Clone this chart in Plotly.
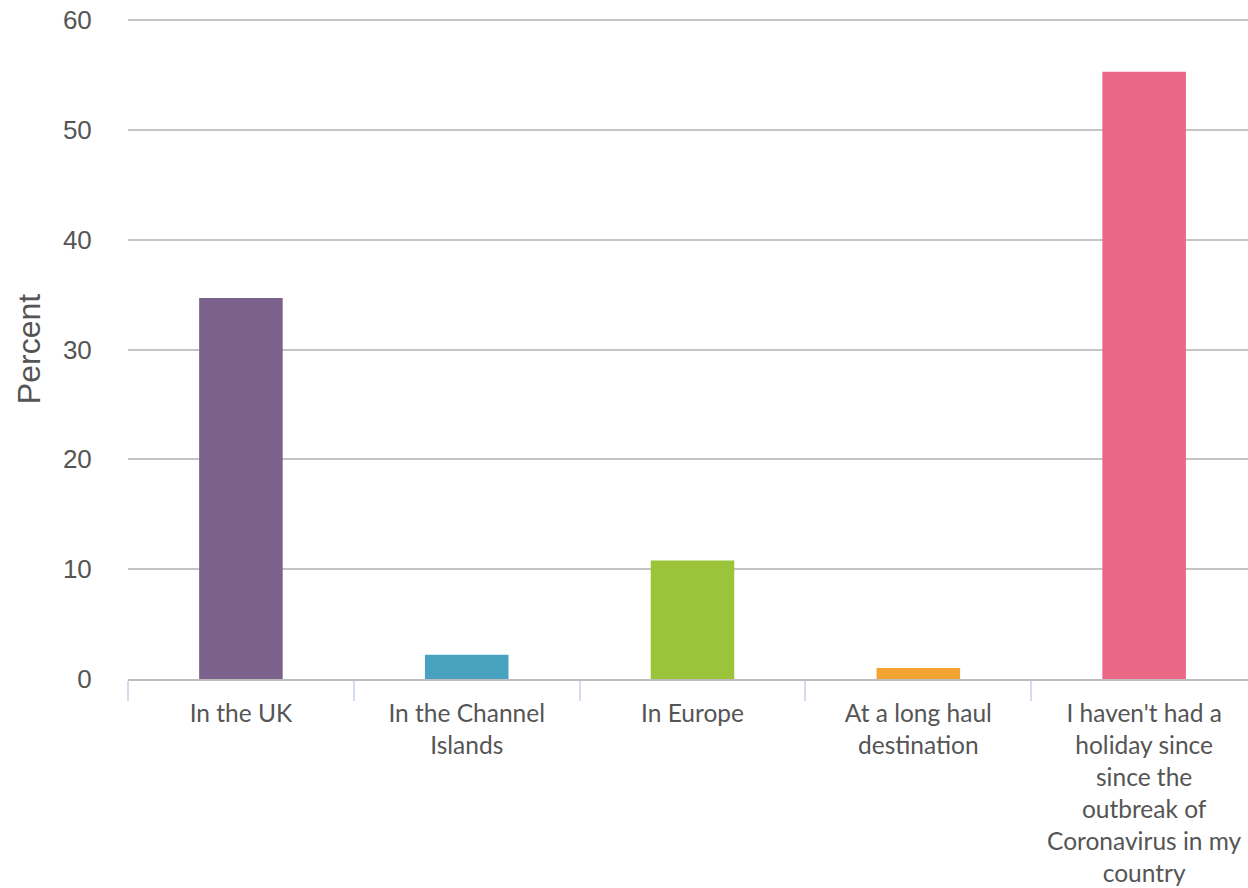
import plotly.graph_objects as go

categories = [
    "In the UK",
    "In the Channel<br>Islands",
    "In Europe",
    "At a long haul<br>destination",
    "I haven't had a<br>holiday since<br>since the<br>outbreak of<br>Coronavirus in my<br>country",
]
values = [34.7, 2.2, 10.8, 1.0, 55.3]
colors = ["#7b628c", "#48a2c0", "#9bc43a", "#f2a331", "#ec6686"]
y_ticks = [0, 10, 20, 30, 40, 50, 60]

fig = go.Figure(go.Bar(x=categories, y=values, marker=dict(color=colors, line=dict(width=0))))

fig.update_layout(
    width=1248, height=888,
    margin=dict(l=128, r=0, t=19, b=209),
    plot_bgcolor="white", paper_bgcolor="white",
    bargap=0.63,
    showlegend=False,
    font=dict(family="Lato", color="#555555"),
)
fig.update_xaxes(
    automargin=False,
    range=[-0.5, 4.46],
    tickfont=dict(family="Lato", size=24.5, color="#555555"),
    showline=True, linecolor="#bdbdbd", linewidth=2,
    ticks="outside", tickson="boundaries", ticklen=20, tickcolor="#d3dcee", tickwidth=2,
    ticklabelstandoff=12,
    showgrid=False,
)
fig.update_yaxes(
    automargin=False,
    range=[0, 60.1], tickvals=y_ticks,
    tickfont=dict(family="Liberation Sans", size=26, color="#555555"),
    showgrid=True, gridcolor="#c4c4c4", gridwidth=2,
    zeroline=False, showline=False, ticks="outside", ticklen=30, tickcolor="rgba(0,0,0,0)",
    title=dict(text="Percent", font=dict(family="Liberation Sans", size=32, color="#555555"), standoff=12),
)

fig.write_html(
    "out.html",
    config={"displayModeBar": False},
    post_script="document.body.style.margin='0';document.body.style.overflow='hidden';",
)
